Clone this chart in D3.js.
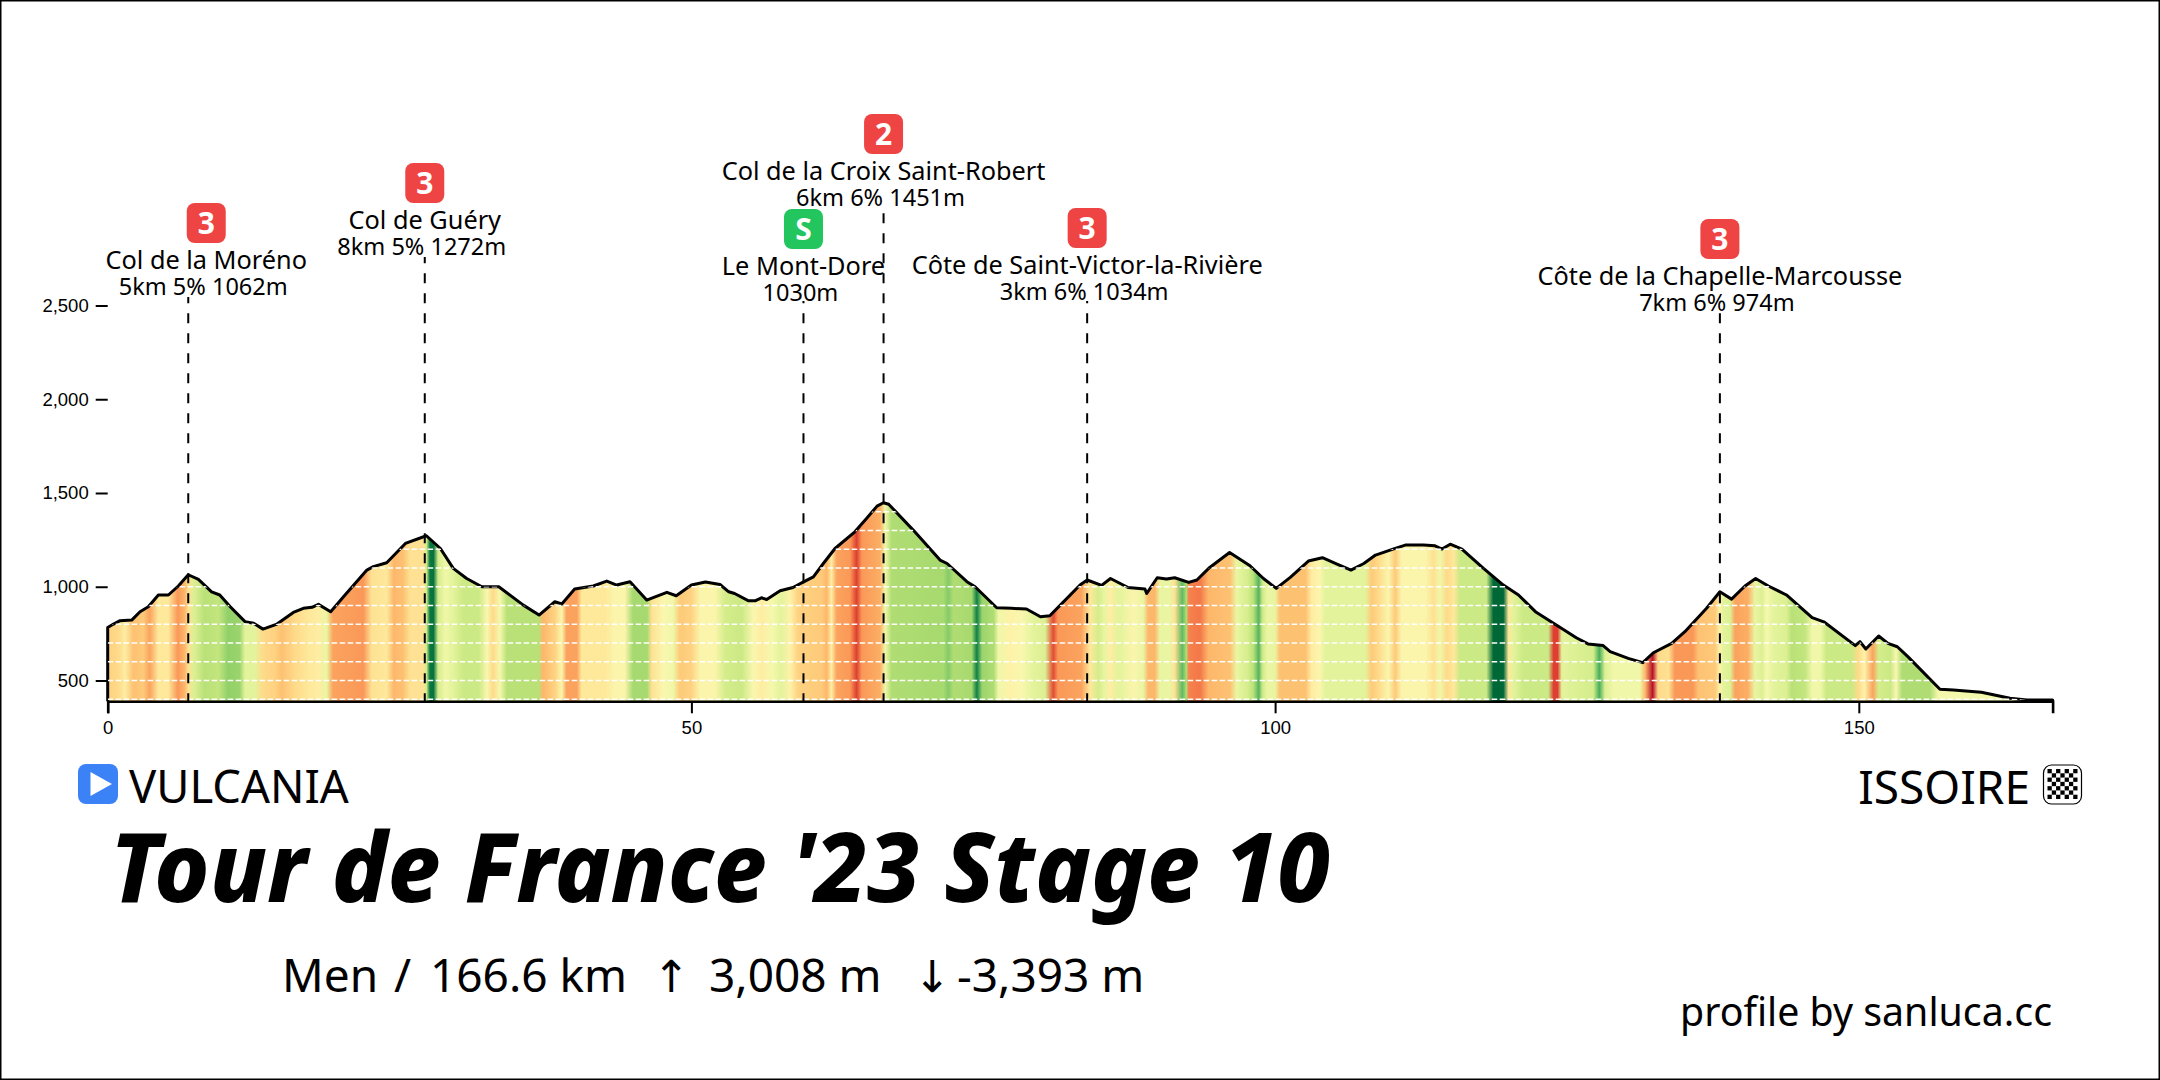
<!DOCTYPE html>
<html>
<head>
<meta charset="utf-8">
<script src="https://cdn.jsdelivr.net/npm/d3@7"></script>
<style>
  body { margin: 0; background: #fff; }
  text { font-family: 'Noto Sans', sans-serif; fill: #000; }
  .tick text { font-family: 'Liberation Sans', sans-serif; }
</style>
</head>
<body>
<svg id="chart"></svg>
<script>
// elevation profile, km and metres
const profileKm = [0, 0.5, 1.06, 2.06, 2.77, 3.48, 4.34, 5.2, 6.05, 6.9, 7.77, 8.9, 9.6, 10.5, 11.76, 12.5, 13.3, 14.5, 15.9, 16.76, 17.5, 18.05, 19.1, 20.2, 22.2, 22.75, 23.9, 25.5, 27.3, 28.5, 29.6, 30.75, 32.05, 33.5, 35.6, 36.95, 38.3, 38.9, 40, 41.6, 42.75, 43.6, 44.74, 46.17, 47.9, 48.7, 50, 51.2, 52.45, 53.2, 53.7, 54.9, 55.45, 56, 56.45, 57.6, 58.7, 59.65, 60.45, 61.3, 62.3, 64, 65, 65.9, 66.45, 66.9, 69, 71.3, 71.9, 73.6, 74.3, 76.15, 77.4, 78.7, 79.9, 80.7, 81.6, 83.29, 83.9, 85.14, 85.9, 87.4, 88.85, 89, 89.9, 90.7, 91.4, 92.6, 93.3, 94.4, 96.1, 97.85, 99, 100.1, 101.3, 102.85, 104.05, 105.3, 106.5, 107.6, 108.6, 110.1, 111.15, 112.7, 113.7, 114.3, 115, 116, 117.85, 119.55, 120.85, 122.3, 123.85, 125.8, 126.8, 128.1, 128.7, 130.25, 131.5, 132.4, 133.97, 135.1, 136.96, 138.1, 139.1, 140.25, 141.16, 142.25, 143.8, 146, 147, 149.7, 150.1, 150.6, 151.7, 152.5, 153.3, 154.2, 156.95, 158.1, 160.5, 162.95, 164.4, 166.6];
const profileElev = [783, 801, 819, 822, 867, 893, 956, 956, 1004, 1064, 1039, 973, 956, 893, 814, 805, 774, 801, 863, 885, 890, 906, 867, 947, 1089, 1107, 1128, 1231, 1272, 1204, 1098, 1044, 1000, 1000, 902, 849, 920, 908, 988, 1004, 1030, 1009, 1027, 929, 970, 952, 1009, 1025, 1012, 973, 964, 925, 925, 941, 932, 979, 996, 1027, 1053, 1124, 1204, 1293, 1364, 1430, 1448, 1440, 1302, 1142, 1124, 1027, 1000, 888, 885, 881, 840, 845, 902, 1009, 1036, 1007, 1044, 996, 988, 964, 1048, 1041, 1048, 1023, 1036, 1103, 1183, 1112, 1044, 991, 1050, 1137, 1155, 1121, 1089, 1124, 1169, 1201, 1222, 1222, 1218, 1201, 1227, 1201, 1098, 1009, 956, 867, 805, 728, 695, 686, 654, 618, 595, 648, 698, 760, 885, 973, 934, 1004, 1044, 1004, 956, 835, 813, 686, 707, 668, 737, 698, 680, 627, 453, 449, 437, 405, 396, 396];

// slope in % along the route
const bandKm = [0.06, 0.91, 1.48, 2.2, 3.05, 3.6, 4.34, 5.2, 6, 6.6, 6.9, 7.4, 8.3, 9.5, 10.3, 11.3, 11.76, 12.6, 13.3, 14.3, 14.9, 16.05, 17.2, 18.05, 18.75, 19.3, 21.9, 22.6, 23.9, 24.5, 25.3, 25.9, 27.05, 27.3, 27.6, 27.9, 28.3, 28.9, 29.6, 30.5, 31.75, 32.5, 33, 33.6, 34.2, 36.9, 37.3, 38.3, 38.9, 39.3, 40.2, 40.6, 42.6, 43.45, 44.3, 45, 46.2, 46.6, 47.6, 48.45, 49, 50, 50.75, 52, 52.9, 54.3, 55.3, 56, 56.9, 57.7, 58.45, 59.15, 61.16, 61.6, 62, 62.45, 63.6, 64.15, 64.6, 66.15, 66.6, 67.15, 71.6, 72, 72.45, 74, 74.45, 74.9, 75.9, 76.3, 77.4, 78.3, 79.3, 80.3, 81, 81.4, 83.4, 84.15, 84.86, 85.43, 85.86, 86.6, 87.86, 88.7, 89.14, 89.7, 90.14, 91, 91.4, 92.05, 92.4, 92.6, 93.57, 94.3, 96.14, 96.7, 97.7, 98.14, 98.6, 98.9, 99.3, 100, 100.4, 102.6, 103.14, 103.85, 104.3, 107.7, 108.3, 108.85, 109.7, 110.3, 110.85, 112.85, 113.55, 114.15, 114.7, 115.3, 115.85, 118.1, 118.7, 119.55, 120, 120.4, 121.3, 123.4, 123.85, 124.2, 124.55, 127.26, 127.77, 128.25, 128.97, 131.25, 131.7, 132.34, 132.8, 133.7, 134.25, 135.8, 136.25, 137.7, 138.1, 138.4, 139, 139.4, 140.5, 141.1, 141.7, 142.1, 142.7, 143.8, 144.25, 145.4, 146, 146.7, 147.25, 149.4, 149.95, 150.5, 151.2, 151.7, 152.7, 153.2, 153.7, 156.1, 156.8, 166.6];
const bandSlope = [3.5, 3, 1.5, 4.5, 4, 6, 2, 2, 6.5, 5, 2.5, -2.5, -4.5, -4, -6.5, -6, -2, -2, 3, 3.5, 4.5, 3, 2, 1.5, -1.5, 6, 6.5, 2.5, 2, 5, 4.5, 2.5, 2.5, -3, -13, -13.5, -3, -1, -2, -3.5, -3.5, 0, 3, -0.5, -4.5, -4.5, 5, 3.5, 0.5, 6, 6, 2, 2, 0.5, 0.5, -5.5, -5.5, 2.5, 0, -1, 4, 3.5, 0.5, 0.5, -3, -3.5, 0, 1.5, -0.5, -2, 1, 3.5, 4, 5, 1.5, 6, 6.5, 10.5, 6.5, 5.5, -1, -5, -5.5, -7, -5, -5.5, -12.5, -6, -5, -1, 1, 0, -2, -2.5, 10, 6.5, 6, 2, -3, -1.5, 1.5, -2, 0.5, -1.5, 5, 5, -1.5, -1.5, 2.5, -8.5, -5, 7.5, 8, 5, 4.5, -1.5, -3, -4.5, -9, -3.5, -1.5, -1.5, 4.5, 4.5, 1.5, 0.5, -2, -2, 4, 3, 0.5, 4, 0.5, 0.5, 2.5, -1, 3, 2, -3.5, -3.5, -14, -14, 2, -2, -3.5, -3.5, 10.5, 10.5, -2, -3, -9.5, -2.5, -1, -1, 5, 13, 3, 2.5, 6.5, 6.5, 4.5, 4, 1, -2, -2.5, 6, 5.5, -1.5, -2.5, -0.5, -2, -2.5, -4.5, -4, -1, -1, -3.5, -3.5, 3, 1, 6, -3, -3.5, 0, -5, -5, -0.5, -1];

const climbKm = [6.9, 27.16, 59.6, 66.46, 83.9, 138.1];
const climbBadge = ['3', '3', 'S', '2', '3', '3'];
const climbName = ['Col de la Moréno', 'Col de Guéry', 'Le Mont-Dore', 'Col de la Croix Saint-Robert', 'Côte de Saint-Victor-la-Rivière', 'Côte de la Chapelle-Marcousse'];
const climbStat = ['5km 5% 1062m', '8km 5% 1272m', '1030m', '6km 6% 1451m', '3km 6% 1034m', '7km 6% 974m'];

const xTickValues = [0, 50, 100, 150];
const yTickValues = [500, 1000, 1500, 2000, 2500];
const gridValues = [400, 500, 600, 700, 800, 900, 1000, 1100, 1200, 1300, 1400];

const titleText = "Tour de France '23 Stage 10";
const subtitleParts = ['Men', '/', '166.6 km', '↑', '3,008 m', '↓', '-3,393 m'];
const startName = 'VULCANIA';
const finishName = 'ISSOIRE';
const creditText = 'profile by sanluca.cc';

// where each label block sits, the badges are stacked by hand
const badgeTop = [203, 163, 209, 114, 208, 219];
const labelShift = [18, 0, 0, 0, 0, 0];
const lineTop = [297, 257, 301, 212, 301, 313];
const subtitleX = [282, 394, 430, 653, 709, 914, 957];

const width = 2160;
const height = 1080;
const badgeW = 39;
const badgeH = 40;

const svg = d3.select('#chart')
.attr('width', width)
.attr('height', height);

svg.append('rect')
.attr('x', 0.75)
.attr('y', 0.75)
.attr('width', width - 1.5)
.attr('height', height - 1.5)
.attr('fill', '#fff')
.attr('stroke', '#000')
.attr('stroke-width', 1.5);

const x = d3.scaleLinear().domain([0, 166.6]).range([107.7, 2052.6]);
const y = d3.scaleLinear().domain([389, 2500]).range([701.3, 305.5]);
const slopeColor = d3.scaleSequential(d3.interpolateRdYlGn).domain([14, -14]);

const profile = profileKm.map((km, i) => ({km, elev: profileElev[i]}));

// slope colours as one horizontal gradient
const defs = svg.append('defs');
const gradient = defs.append('linearGradient')
.attr('id', 'slope')
.attr('gradientUnits', 'userSpaceOnUse')
.attr('x1', x(0))
.attr('x2', x(166.6))
.attr('y1', 0)
.attr('y2', 0);

gradient.selectAll('stop')
.data(bandKm)
.enter()
.append('stop')
.attr('offset', d => d / 166.6)
.attr('stop-color', (d, i) => slopeColor(bandSlope[i]));

const area = d3.area()
.x(d => x(d.km))
.y0(y(389))
.y1(d => y(d.elev));

defs.append('clipPath')
.attr('id', 'profile-clip')
.append('path')
.datum(profile)
.attr('d', area);

svg.append('path')
.datum(profile)
.attr('fill', 'url(#slope)')
.attr('d', area);

// outline closes down to the axis at both ends
const line = d3.line()
.x(d => x(d.km))
.y(d => y(d.elev));

svg.append('path')
.datum([{km: 0, elev: 389}, ...profile, {km: 166.6, elev: 389}])
.attr('fill', 'none')
.attr('stroke', '#000')
.attr('stroke-width', 3)
.attr('stroke-linejoin', 'round')
.attr('d', line);

svg.append('g')
.attr('clip-path', 'url(#profile-clip)')
.selectAll('line')
.data(gridValues)
.enter()
.append('line')
.attr('x1', x(0))
.attr('x2', x(166.6))
.attr('y1', d => y(d))
.attr('y2', d => y(d))
.attr('stroke', '#fff')
.attr('stroke-width', 1.6)
.attr('stroke-dasharray', '5.5 2.5');

// all climb lines share one dash phase, a dash starts at y 313.3
svg.append('g')
.selectAll('line')
.data(climbKm)
.enter()
.append('line')
.attr('x1', d => x(d))
.attr('x2', d => x(d))
.attr('y1', (d, i) => lineTop[i])
.attr('y2', y(389))
.attr('stroke', '#000')
.attr('stroke-width', 2)
.attr('stroke-dasharray', '10 10')
.attr('stroke-dashoffset', (d, i) => lineTop[i] - 313.3);

const xAxis = svg.append('g')
.attr('transform', `translate(0, ${y(389)})`)
.call(d3.axisBottom(x).tickValues(xTickValues).tickSize(12).tickPadding(8));
xAxis.select('.domain').attr('stroke-width', 2.6);
xAxis.selectAll('.tick line').attr('stroke-width', 2);
xAxis.selectAll('.tick text').style('font-size', '18.5px');

const yAxis = svg.append('g')
.attr('transform', `translate(${x(0)}, 0)`)
.call(d3.axisLeft(y).tickValues(yTickValues).tickFormat(d3.format(',')).tickSize(12).tickPadding(7));
yAxis.select('.domain').remove();
yAxis.selectAll('.tick line').attr('stroke-width', 2);
yAxis.selectAll('.tick text').style('font-size', '18.5px');

const labels = svg.append('g')
.selectAll('g')
.data(climbKm)
.enter()
.append('g')
.attr('transform', (d, i) => `translate(${x(d) + labelShift[i]}, ${badgeTop[i]})`);

labels.append('rect')
.attr('x', -badgeW / 2)
.attr('width', badgeW)
.attr('height', badgeH)
.attr('rx', 8)
.attr('fill', (d, i) => climbBadge[i] === 'S' ? '#22c55e' : '#ef4444');

labels.append('text')
.attr('y', 31)
.attr('text-anchor', 'middle')
.style('font-size', '30px')
.style('font-weight', 700)
.style('fill', '#fff')
.text((d, i) => climbBadge[i]);

labels.append('text')
.attr('y', 66)
.attr('text-anchor', 'middle')
.style('font-size', '25.3px')
.text((d, i) => climbName[i]);

labels.append('text')
.attr('x', -3)
.attr('y', 92)
.attr('text-anchor', 'middle')
.style('font-size', '23.5px')
.text((d, i) => climbStat[i]);

// start and finish
svg.append('rect')
.attr('x', 78).attr('y', 764).attr('width', 40).attr('height', 40).attr('rx', 8)
.attr('fill', '#3b82f6');
svg.append('path')
.attr('d', 'M90.5,772 L112,784 L90.5,796 Z')
.attr('fill', '#fff');
svg.append('text')
.attr('x', 129).attr('y', 803)
.style('font-size', '45.4px')
.text(startName);

svg.append('text')
.attr('x', 2030).attr('y', 804)
.attr('text-anchor', 'end')
.style('font-size', '46px')
.text(finishName);

svg.append('rect')
.attr('x', 2043.5).attr('y', 765).attr('width', 38).attr('height', 39).attr('rx', 8)
.attr('fill', '#fff')
.attr('stroke', '#000')
.attr('stroke-width', 1.2);

const cell = 30 / 7;
svg.append('g')
.selectAll('rect')
.data(d3.range(49).filter(d => (d % 7 + Math.floor(d / 7)) % 2 === 0))
.enter()
.append('rect')
.attr('x', d => 2047.5 + (d % 7) * cell)
.attr('y', d => 769 + Math.floor(d / 7) * cell)
.attr('width', cell)
.attr('height', cell)
.attr('fill', '#000');

svg.append('text')
.attr('x', 110).attr('y', 902)
.attr('textLength', 1220)
.attr('lengthAdjust', 'spacingAndGlyphs')
.style('font-size', '96px')
.style('font-weight', 800)
.style('font-style', 'italic')
.text(titleText);

svg.append('g')
.selectAll('text')
.data(subtitleParts)
.enter()
.append('text')
.attr('x', (d, i) => subtitleX[i])
.attr('y', 992)
.style('font-family', d => d === '↑' || d === '↓' ? "'DejaVu Sans'" : null)
.style('font-size', d => d === '↑' || d === '↓' ? '44px' : '46px')
.text(d => d);

svg.append('text')
.attr('x', 2052).attr('y', 1026)
.attr('text-anchor', 'end')
.style('font-size', '39.3px')
.text(creditText);
</script>
</body>
</html>
